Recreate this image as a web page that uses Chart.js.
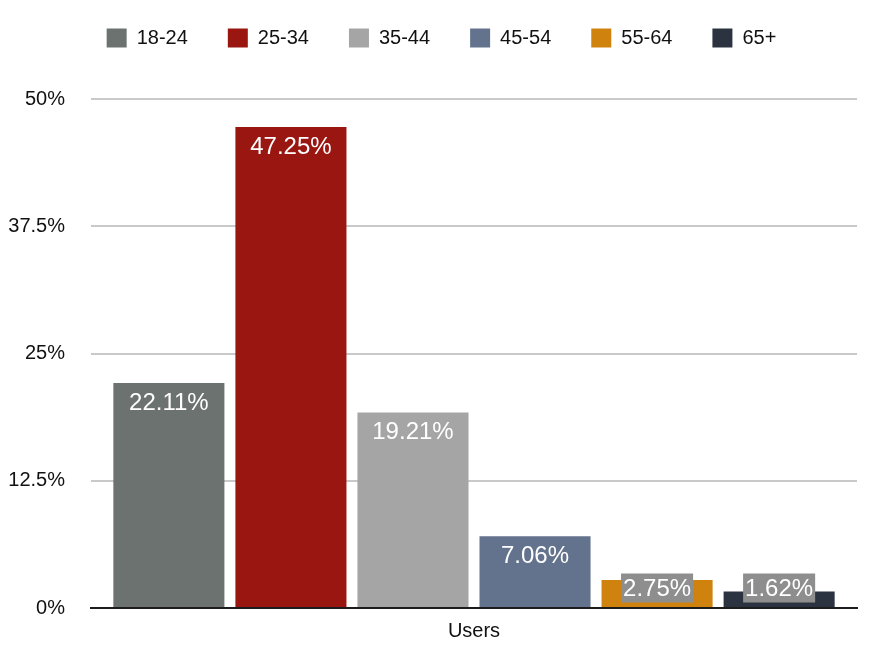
<!DOCTYPE html>
<html>
<head>
<meta charset="utf-8">
<script src="https://cdn.jsdelivr.net/npm/chart.js@4"></script>
<style>
  html, body { margin: 0; padding: 0; background: #fff; }
  #wrap { width: 882px; height: 654px; }
</style>
</head>
<body>
<div id="wrap"><canvas id="usersChart"></canvas></div>
<script>
// data
const category = ['Users'];
const ageGroups = ['18-24', '25-34', '35-44', '45-54', '55-64', '65+'];
const userShares = [22.11, 47.25, 19.21, 7.06, 2.75, 1.62];
const barColors = ['#6c726f', '#9a1611', '#a5a5a5', '#63728d', '#d0820f', '#2c3340'];
const yTicks = [0, 12.5, 25, 37.5, 50];

const FONT = '"Liberation Sans", Arial, Helvetica, sans-serif';

// white value labels at the top of each bar, grey box when the bar is too short
const barLabels = {
    id: 'barLabels',
    afterDatasetsDraw(chart) {
        const ctx = chart.ctx;
        ctx.save();
        ctx.font = '24px ' + FONT;
        ctx.textAlign = 'center';
        ctx.textBaseline = 'middle';
        chart.data.datasets.forEach((ds, i) => {
            const bar = chart.getDatasetMeta(i).data[0];
            const text = ds.data[0].toFixed(2) + '%';
            let cy = bar.y + 19;
            let boxed = false;
            if (cy + 14 > bar.base - 5) {
                cy = bar.base - 19;
                boxed = true;
            }
            if (boxed) {
                const w = ctx.measureText(text).width + 4;
                ctx.fillStyle = '#8e8e8e';
                ctx.fillRect(bar.x - w / 2, cy - 14.5, w, 29);
            }
            ctx.fillStyle = '#ffffff';
            ctx.fillText(text, bar.x, cy + 1);
        });
        ctx.restore();
    }
};

// fix legend height so the plot starts where the reference does,
// and nudge the legend row a little to the right
const legendTweak = {
    id: 'legendTweak',
    afterInit(chart) {
        const fit = chart.legend.fit;
        chart.legend.fit = function () {
            fit.call(this);
            this.height = 111;
        };
    },
    afterLayout(chart) {
        chart.legend.left += 13;
        chart.legend.right += 13;
    }
};

const datasets = ageGroups.map((g, i) => ({
    label: g,
    data: [userShares[i]],
    backgroundColor: barColors[i],
    borderWidth: 0,
    categoryPercentage: 0.956,
    barPercentage: 0.91
}));

new Chart(document.getElementById('usersChart'), {
    type: 'bar',
    data: { labels: category, datasets: datasets },
    options: {
        responsive: true,
        maintainAspectRatio: false,
        animation: false,
        layout: { padding: { top: -12, left: 0, right: 25, bottom: 0 } },
        plugins: {
            legend: {
                position: 'top',
                labels: {
                    boxWidth: 20,
                    boxHeight: 19,
                    padding: 40,
                    color: '#111',
                    font: { family: FONT, size: 20 }
                }
            },
            tooltip: { enabled: false }
        },
        scales: {
            x: {
                grid: { display: false, drawTicks: false },
                border: { display: true, color: '#1c1c1c', width: 2 },
                ticks: { color: '#111', padding: 11, font: { family: FONT, size: 20 } }
            },
            y: {
                min: 0,
                max: 50,
                afterFit(scale) { scale.width = 91; },
                afterBuildTicks(scale) { scale.ticks = yTicks.map(v => ({ value: v })); },
                grid: {
                    drawTicks: false,
                    lineWidth: 2,
                    color: (c) => c.tick && c.tick.value === 0 ? 'rgba(0,0,0,0)' : '#c9c9c9'
                },
                border: { display: false },
                ticks: {
                    padding: 26,
                    color: '#111',
                    font: { family: FONT, size: 20 },
                    callback: (v) => v + '%'
                }
            }
        }
    },
    plugins: [barLabels, legendTweak]
});
</script>
</body>
</html>
